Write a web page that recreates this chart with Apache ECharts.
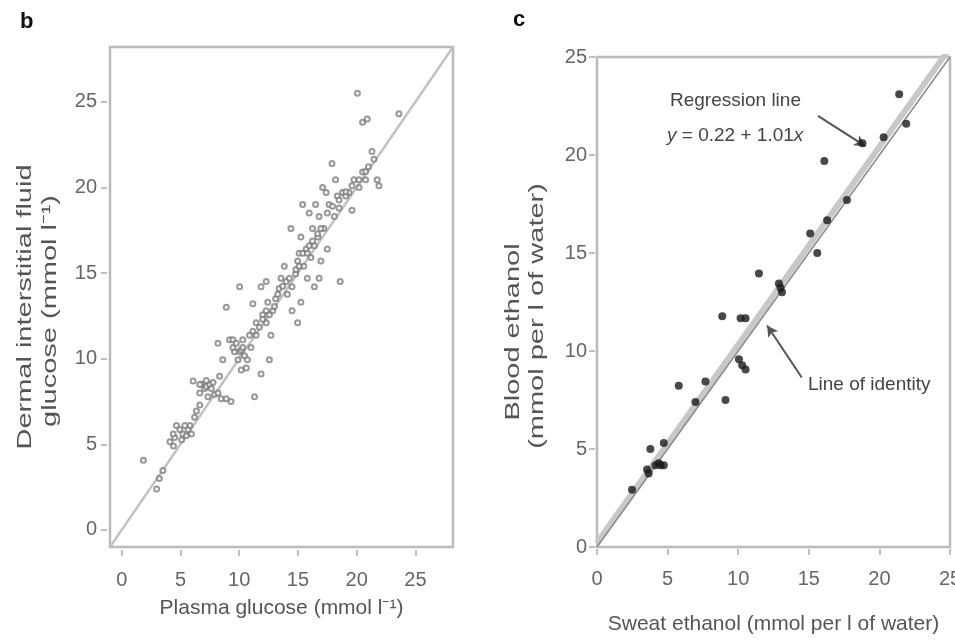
<!DOCTYPE html>
<html>
<head>
<meta charset="utf-8">
<script src="https://cdn.jsdelivr.net/npm/echarts@6/dist/echarts.min.js"></script>
<style>html,body{margin:0;padding:0;background:#fff}#c{width:955px;height:643px}</style>
</head>
<body>
<div id="c"></div>
<script>
// ---- Data ----
const plasmaGlucose = [1.84,2.97,3.2,3.5,4.1,4.4,4.5,4.66,5.1,5.2,5.5,5.65,5.8,5.93,6.07,6.2,6.36,6.64,6.64,6.78,7.06,7.2,7.34,7.49,7.77,7.9,8.19,8.47,8.9,9.3,8.19,8.6,8.9,9.18,9.46,9.6,9.9,10.03,10.17,10.3,10.45,10.03,10.17,10.6,10.7,11.0,11.3,11.44,11.16,11.44,11.72,11.86,12.0,12.3,12.3,12.43,12.57,12.7,12.85,11.86,12.3,13.1,13.4,13.56,13.84,14.0,14.1,14.4,14.5,14.5,14.8,14.97,14.97,15.1,15.25,15.25,15.4,15.5,15.7,15.8,15.96,15.96,16.1,16.24,16.4,16.4,16.5,16.7,16.8,16.8,16.95,17.1,17.2,17.4,17.5,17.65,17.9,18.1,18.2,18.36,18.5,18.6,18.8,19.07,19.35,19.6,19.77,20.06,20.2,20.5,20.5,20.76,20.9,21.3,21.75,21.9,23.6,6.64,7.2,7.63,8.33,9.46,9.75,10.3,10.88,11.16,12.0,12.57,13.0,13.28,13.7,14.27,14.83,15.1,15.4,15.8,16.24,16.67,16.95,17.5,17.94,18.5,19.07,19.6,20.2,20.76,21.0,21.47,4.38,4.94,5.37];
const dermalGlucose = [4.07,2.39,3.0,3.47,5.14,4.9,5.4,6.1,5.26,5.6,5.5,5.86,6.1,5.6,8.7,6.58,6.94,7.3,8.0,8.5,8.25,8.37,7.78,8.49,8.6,7.9,8.0,7.66,7.66,7.5,10.9,9.93,13.0,11.1,11.1,10.4,9.93,10.4,10.5,10.65,10.17,14.2,9.33,9.45,9.93,10.65,7.78,12.1,13.2,11.36,11.84,9.1,12.56,12.1,12.8,13.3,9.93,11.36,12.8,14.2,14.5,13.5,14.1,14.7,15.4,14.5,13.76,17.6,12.8,14.2,14.95,12.1,15.7,16.15,13.3,17.1,19.0,15.4,16.4,14.7,16.6,18.5,15.9,17.6,14.2,16.6,19.0,17.1,18.3,14.7,15.7,20.0,17.6,19.7,16.4,19.0,21.4,18.3,20.45,19.5,18.8,14.5,19.7,19.5,19.7,18.66,20.45,25.5,20.0,20.9,23.8,20.45,24.0,22.1,20.45,20.1,24.3,8.49,8.73,8.25,8.97,10.65,10.9,11.1,11.36,11.6,12.3,12.56,13.04,13.76,14.23,14.7,15.2,15.4,16.15,16.15,16.87,17.3,17.6,18.5,18.9,19.26,19.74,20.1,20.45,20.93,21.2,21.65,5.6,5.86,6.1];

const sweatEthanol = [2.48,3.55,3.66,3.78,4.14,4.37,4.5,4.73,4.73,5.79,6.97,7.68,8.87,9.1,10.05,10.28,10.52,10.17,10.52,11.47,12.88,13.0,13.1,15.1,15.6,16.1,16.3,17.7,18.8,20.3,21.4,21.9];
const bloodEthanol = [2.92,3.96,3.75,5.0,4.17,4.27,4.17,5.3,4.17,8.23,7.4,8.44,11.77,7.5,9.58,9.27,9.06,11.67,11.67,13.96,13.44,13.23,13.0,16.0,15.0,19.7,16.67,17.7,20.6,20.9,23.1,21.6];

const regressionIntercept = 0.22;
const regressionSlope = 1.01;

const tickValues = [0, 5, 10, 15, 20, 25];
const leftRange = [-1, 28.2];
const rightRange = [0, 25];

const leftPoints = plasmaGlucose.map((x, i) => [x, dermalGlucose[i]]);
const rightPoints = sweatEthanol.map((x, i) => [x, bloodEthanol[i]]);

const FONT = '"Liberation Sans", Arial, Helvetica, sans-serif';
const labelStyle = { fontSize: 20, color: '#666', fontFamily: FONT };
const nameStyle = { fontSize: 21, lineHeight: 26, color: '#555', fontFamily: FONT };
const tickStyle = { color: '#aaa', width: 1.5 };

function axisBase(range, gridIndex, offset, margin, custom) {
  const a = {
    gridIndex, type: 'value', min: range[0], max: range[1], offset,
    axisLine: { show: false, onZero: false },
    splitLine: { show: false },
    axisTick: { show: true, length: 6, lineStyle: tickStyle },
    axisLabel: Object.assign({ margin, showMinLabel: true, showMaxLabel: true }, labelStyle),
    nameLocation: 'middle', nameTextStyle: Object.assign({}, nameStyle)
  };
  if (custom) {
    a.axisTick.customValues = tickValues;
    a.axisLabel.customValues = tickValues;
  } else {
    a.interval = 5;
  }
  return a;
}

const chart = echarts.init(document.getElementById('c'), null, { renderer: 'canvas' });

const xL = axisBase(leftRange, 0, 3, 20, true);
xL.name = 'Plasma glucose (mmol l\u207B\u00B9)'; xL.nameGap = 44;
const yL = axisBase(leftRange, 0, 3, 10, true);
const xR = axisBase(rightRange, 1, 2, 20, false);
xR.name = 'Sweat ethanol (mmol per l of water)'; xR.nameGap = 62;
const yR = axisBase(rightRange, 1, 2, 8, false);

chart.setOption({
  animation: false,
  backgroundColor: '#fff',
  textStyle: { fontFamily: FONT },
  grid: [
    { left: 110, top: 47, width: 343, height: 500, show: true, borderColor: '#bbb', borderWidth: 2.5, containLabel: false, outerBoundsMode: 'none' },
    { left: 597, top: 57, width: 353, height: 490, show: true, borderColor: '#bbb', borderWidth: 2.5, containLabel: false, outerBoundsMode: 'none' }
  ],
  xAxis: [xL, xR],
  yAxis: [yL, yR],
  series: [
    {
      name: 'Line of identity (b)', type: 'line', xAxisIndex: 0, yAxisIndex: 0, z: 1,
      data: [[leftRange[0], leftRange[0]], [leftRange[1], leftRange[1]]],
      showSymbol: false, lineStyle: { color: '#c2c2c2', width: 2.5 }, silent: true
    },
    {
      name: 'Glucose', type: 'scatter', xAxisIndex: 0, yAxisIndex: 0, z: 5,
      data: leftPoints, symbol: 'emptyCircle', symbolSize: 5,
      itemStyle: { color: '#777', borderWidth: 1.2, opacity: 0.75 }
    },
    {
      name: 'Regression line', type: 'line', xAxisIndex: 1, yAxisIndex: 1, z: 1,
      data: [[0, regressionIntercept], [25, regressionIntercept + regressionSlope * 25]],
      showSymbol: false, lineStyle: { color: '#c8c8c8', width: 6 }, silent: true
    },
    {
      name: 'Line of identity', type: 'line', xAxisIndex: 1, yAxisIndex: 1, z: 2,
      data: [[0, 0], [25, 25]],
      showSymbol: false, lineStyle: { color: '#8a8a8a', width: 1.5 }, silent: true,
      markLine: {
        silent: true, symbol: ['none', 'arrow'], symbolSize: [9, 11], label: { show: false },
        lineStyle: { color: '#555', width: 2, type: 'solid' },
        data: [
          [{ coord: [15.65, 22.0] }, { coord: [19.0, 20.45] }],
          [{ coord: [14.5, 8.65] }, { coord: [12.05, 11.3] }]
        ]
      }
    },
    {
      name: 'Ethanol', type: 'scatter', xAxisIndex: 1, yAxisIndex: 1, z: 5,
      data: rightPoints, symbol: 'circle', symbolSize: 8,
      itemStyle: { color: '#1a1a1a' }
    }
  ]
});

// annotations placed in data space of the right panel
const notes = [
  { at: [5.17, 22.75], text: 'Regression line' },
  { at: [4.96, 21.0], text: '{i|y} = 0.22 + 1.01{i|x}' },
  { at: [14.94, 8.3], text: 'Line of identity' }
];
const g = notes.map(n => {
  const p = chart.convertToPixel({ gridIndex: 1 }, n.at);
  return {
    type: 'text', x: p[0], y: p[1], silent: true,
    style: {
      text: n.text, fill: '#444', fontSize: 19, fontFamily: FONT,
      align: 'left', verticalAlign: 'middle',
      rich: { i: { fontStyle: 'italic', fontSize: 19, fontFamily: FONT, fill: '#444' } }
    }
  };
});
// vertical axis titles (the reference's vertical text is stretched along its length)
const yTitles = [
  { text: 'Dermal interstitial fluid', x: 25, y: 307 },
  { text: 'glucose (mmol l\u207B\u00B9)', x: 50, y: 311 },
  { text: 'Blood ethanol', x: 513, y: 332 },
  { text: '(mmol per l of water)', x: 537, y: 316 }
];
yTitles.forEach(t => g.push({
  type: 'text', x: t.x, y: t.y, rotation: Math.PI / 2, scaleX: 1.38, scaleY: 1, silent: true,
  style: { text: t.text, fill: '#555', fontSize: 21, fontFamily: FONT, align: 'center', verticalAlign: 'middle' }
}));
g.push({ type: 'text', x: 20, y: 22, style: { text: 'b', fill: '#111', fontSize: 22, fontWeight: 'bold', fontFamily: FONT, align: 'left', verticalAlign: 'middle' } });
g.push({ type: 'text', x: 513, y: 20, style: { text: 'c', fill: '#111', fontSize: 22, fontWeight: 'bold', fontFamily: FONT, align: 'left', verticalAlign: 'middle' } });
chart.setOption({ graphic: g });
</script>
</body>
</html>
